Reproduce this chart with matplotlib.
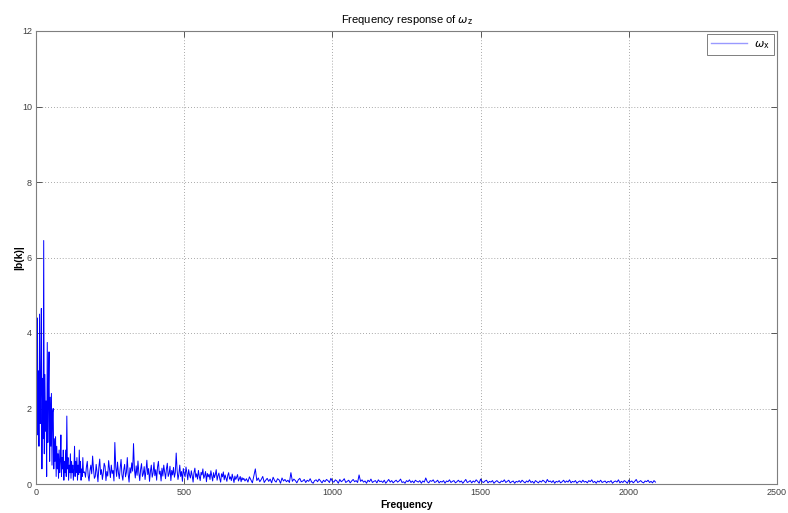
import numpy as np
import matplotlib.pyplot as plt

plt.rcParams['font.family'] = ['Liberation Sans', 'DejaVu Sans']
plt.rcParams['mathtext.fontset'] = 'dejavusans'

# |b(k)| read over three frequency bands (finer spacing where the spectrum is busy)
freq_low = np.arange(0, 161, 2)
mag_low = [
    0.3, 2.9, 4.4, 1.3, 3.0, 1.0, 4.5, 1.6, 2.6, 4.65,
    0.4, 2.8, 1.2, 6.45, 0.8, 2.9, 1.4, 2.2, 0.2, 3.75,
    1.1, 2.5, 3.5, 0.6, 2.3, 1.0, 2.4, 0.5, 1.9, 2.0,
    0.4, 1.2, 0.6, 1.25, 0.2, 1.0, 0.4, 0.8, 0.15, 0.9,
    0.3, 0.6, 1.3, 0.2, 0.7, 0.4, 0.9, 0.1, 0.6, 0.3,
    0.9, 0.2, 1.8, 0.4, 0.7, 0.1, 0.5, 0.3, 0.8, 0.15,
    0.6, 0.3, 0.5, 0.1, 0.4, 1.0, 0.2, 0.6, 0.3, 0.7,
    0.1, 0.5, 0.25, 0.9, 0.3, 0.6, 0.1, 0.4, 0.2, 0.7,
    0.3,
]

freq_mid = np.arange(164, 702, 3)
mag_mid = [
    0.32, 0.18, 0.45, 0.6, 0.22, 0.08, 0.35, 0.5, 0.27, 0.74,
    0.4, 0.15, 0.2, 0.52, 0.31, 0.06, 0.44, 0.66, 0.25, 0.38,
    0.12, 0.29, 0.55, 0.47, 0.09, 0.33, 0.21, 0.62, 0.4, 0.17,
    0.5, 0.28, 0.36, 0.08, 1.1, 0.45, 0.2, 0.58, 0.3, 0.14,
    0.42, 0.65, 0.24, 0.1, 0.37, 0.52, 0.19, 0.31, 0.7, 0.26,
    0.05, 0.43, 0.29, 0.56, 0.34, 1.07, 0.4, 0.16, 0.48, 0.23,
    0.61, 0.3, 0.09, 0.39, 0.54, 0.2, 0.27, 0.46, 0.12, 0.35,
    0.63, 0.25, 0.41, 0.07, 0.33, 0.5, 0.18, 0.29, 0.57, 0.22,
    0.38, 0.1, 0.45, 0.6, 0.26, 0.34, 0.08, 0.42, 0.21, 0.5,
    0.31, 0.14, 0.4, 0.55, 0.2, 0.27, 0.47, 0.09, 0.36, 0.24,
    0.44, 0.18, 0.3, 0.82, 0.37, 0.12, 0.26, 0.5, 0.2, 0.33,
    0.07, 0.41, 0.28, 0.19, 0.45, 0.3, 0.11, 0.38, 0.24, 0.16,
    0.35, 0.22, 0.05, 0.3, 0.42, 0.18, 0.27, 0.13, 0.36, 0.2,
    0.09, 0.31, 0.24, 0.4, 0.15, 0.22, 0.33, 0.06, 0.28, 0.19,
    0.26, 0.12, 0.35, 0.21, 0.08, 0.3, 0.17, 0.25, 0.38, 0.1,
    0.22, 0.29, 0.14, 0.05, 0.27, 0.19, 0.32, 0.11, 0.24, 0.16,
    0.07, 0.23, 0.3, 0.13, 0.19, 0.09, 0.26, 0.15, 0.04, 0.21,
    0.12, 0.18, 0.25, 0.08, 0.14, 0.2, 0.06, 0.17, 0.11, 0.15,
]

freq_high = np.arange(705, 2091, 5)
mag_high = [
    0.08, 0.14, 0.05, 0.19, 0.11, 0.03, 0.22, 0.4, 0.09, 0.16,
    0.06, 0.12, 0.2, 0.04, 0.1, 0.15, 0.07, 0.13, 0.03, 0.18,
    0.09, 0.05, 0.14, 0.11, 0.02, 0.16, 0.08, 0.12, 0.06, 0.1,
    0.04, 0.3, 0.07, 0.13, 0.09, 0.03, 0.11, 0.15, 0.06, 0.08,
    0.12, 0.04, 0.1, 0.07, 0.14, 0.05, 0.02, 0.09, 0.11, 0.06,
    0.13, 0.08, 0.03, 0.1, 0.06, 0.12, 0.09, 0.04, 0.15, 0.07,
    0.05, 0.11, 0.08, 0.02, 0.12, 0.06, 0.09, 0.14, 0.04, 0.07,
    0.1, 0.03, 0.08, 0.12, 0.06, 0.09, 0.04, 0.24, 0.07, 0.11,
    0.05, 0.08, 0.02, 0.1, 0.06, 0.13, 0.04, 0.07, 0.09, 0.03,
    0.11, 0.06, 0.08, 0.04, 0.1, 0.02, 0.07, 0.12, 0.05, 0.09,
    0.03, 0.07, 0.1, 0.05, 0.08, 0.13, 0.04, 0.06, 0.02, 0.09,
    0.06, 0.11, 0.04, 0.08, 0.03, 0.1, 0.07, 0.05, 0.09, 0.02,
    0.08, 0.05, 0.16, 0.06, 0.03, 0.09, 0.07, 0.11, 0.04, 0.06,
    0.1, 0.03, 0.07, 0.05, 0.09, 0.02, 0.08, 0.06, 0.11, 0.04,
    0.07, 0.09, 0.03, 0.06, 0.1, 0.05, 0.08, 0.02, 0.07, 0.12,
    0.04, 0.06, 0.09, 0.03, 0.08, 0.05, 0.11, 0.07, 0.02, 0.13,
    0.06, 0.04, 0.08, 0.1, 0.03, 0.07, 0.05, 0.09, 0.02, 0.06,
    0.09, 0.05, 0.03, 0.08, 0.06, 0.11, 0.04, 0.07, 0.1, 0.03,
    0.06, 0.08, 0.02, 0.07, 0.05, 0.09, 0.04, 0.1, 0.06, 0.03,
    0.08, 0.05, 0.11, 0.04, 0.07, 0.02, 0.09, 0.06, 0.03, 0.08,
    0.05, 0.1, 0.07, 0.03, 0.12, 0.06, 0.08, 0.04, 0.09, 0.02,
    0.07, 0.05, 0.09, 0.03, 0.06, 0.1, 0.04, 0.08, 0.05, 0.11,
    0.03, 0.07, 0.05, 0.09, 0.02, 0.06, 0.08, 0.04, 0.1, 0.05,
    0.07, 0.03, 0.09, 0.06, 0.11, 0.04, 0.07, 0.02, 0.08, 0.05,
    0.1, 0.04, 0.06, 0.08, 0.03, 0.07, 0.05, 0.09, 0.02, 0.06,
    0.08, 0.05, 0.11, 0.03, 0.07, 0.04, 0.09, 0.06, 0.02, 0.1,
    0.05, 0.08, 0.03, 0.07, 0.12, 0.04, 0.06, 0.09, 0.05, 0.03,
    0.08, 0.06, 0.1, 0.04, 0.07, 0.03, 0.09, 0.05,
]

freq = np.concatenate([freq_low, freq_mid, freq_high])
mag = np.concatenate([mag_low, mag_mid, mag_high])

x_ticks = [0, 500, 1000, 1500, 2000, 2500]
y_ticks = [0, 2, 4, 6, 8, 10, 12]

fig = plt.figure(figsize=(7.88, 5.13), dpi=100)
ax = fig.add_axes([36 / 788, 29 / 513, 741 / 788, 453 / 513])

ax.plot(freq, mag, color='blue', linewidth=0.7, label=r'$\omega_\mathrm{x}$')

ax.set_xlim(0, 2500)
ax.set_ylim(0, 12)
ax.set_xticks(x_ticks)
ax.set_yticks(y_ticks)
ax.tick_params(direction='in', length=4, width=0.6, colors='#404040',
               labelsize=6.5, top=True, right=True, pad=3)
for s in ax.spines.values():
    s.set_color('#7f7f7f')
    s.set_linewidth(0.8)

ax.grid(True, linestyle=(0, (1, 2.5)), color='#8c8c8c', linewidth=0.6)

ax.set_title(r'Frequency response of $\omega_\mathrm{z}$', fontsize=8, pad=6)
ax.set_xlabel('Frequency', fontsize=7.5, fontweight='bold', labelpad=2)
ax.set_ylabel('|b(k)|', fontsize=7.5, fontweight='bold', labelpad=-2)

leg = ax.legend(loc='upper right', fontsize=8, handlelength=3.2,
                fancybox=False, framealpha=1, borderaxespad=0.3,
                borderpad=0.4, handletextpad=0.6)
leg.get_frame().set_edgecolor('#7f7f7f')
leg.get_frame().set_linewidth(0.7)
leg.get_lines()[0].set_color('#9999ff')
leg.get_lines()[0].set_linewidth(1.0)

fig.savefig('out.png', dpi=100, facecolor='white')
